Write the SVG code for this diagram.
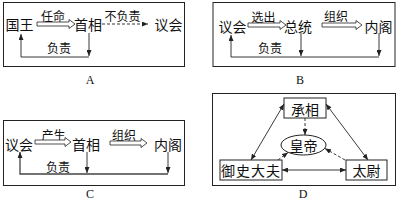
<svg xmlns="http://www.w3.org/2000/svg" width="398" height="201" viewBox="0 0 398 201">
<style>
  .frame{fill:none;stroke:#222;stroke-width:1}
  .nb{fill:#fff;stroke:#222;stroke-width:1}
  .t{font-family:"Noto Sans CJK SC","Noto Sans CJK JP",sans-serif;font-size:14px;fill:#111;text-anchor:middle;dominant-baseline:central}
  .s{font-family:"Noto Sans CJK SC","Noto Sans CJK JP",sans-serif;font-size:12px;fill:#111;text-anchor:middle;dominant-baseline:central}
  .lab{font-family:"Liberation Serif",serif;font-size:12px;fill:#111;text-anchor:middle;dominant-baseline:central}
  .ln{fill:none;stroke:#222;stroke-width:0.9}
  .dash{fill:none;stroke:#222;stroke-width:0.9;stroke-dasharray:3 2}
  .hollow{fill:#fff;stroke:#222;stroke-width:0.8}
</style>
<defs>
  <marker id="ah" markerUnits="userSpaceOnUse" markerWidth="6" markerHeight="5" refX="6" refY="2.5" orient="auto-start-reverse">
    <path d="M0,0 L6,2.5 L0,5 z" fill="#222"/>
  </marker>
</defs>

<!-- Panel A -->
<g id="panelA">
  <rect class="frame" x="3.5" y="2.5" width="181" height="64"/>
  <g id="A-guowang"><text class="t" x="19.5" y="24">国王</text></g>
  <g id="A-shouxiang"><text class="t" x="88" y="24">首相</text></g>
  <g id="A-yihui"><text class="t" x="168.5" y="24">议会</text></g>
  <text class="s" x="53" y="15">任命</text>
  <text class="s" x="122.5" y="15">不负责</text>
  <text class="s" x="59" y="47">负责</text>
  <text class="lab" x="90" y="80">A</text>
</g>

<!-- Panel B -->
<g id="panelB">
  <rect class="frame" x="213" y="2.5" width="182" height="64"/>
  <g id="B-yihui"><text class="t" x="232.5" y="26">议会</text></g>
  <g id="B-zongtong"><text class="t" x="298" y="26">总统</text></g>
  <g id="B-neige"><text class="t" x="378.5" y="26">内阁</text></g>
  <text class="s" x="263.5" y="16">选出</text>
  <text class="s" x="336" y="15">组织</text>
  <text class="s" x="270" y="47">负责</text>
  <text class="lab" x="300" y="80">B</text>
</g>

<!-- Panel C -->
<g id="panelC">
  <rect class="frame" x="3.5" y="120.5" width="181" height="65"/>
  <g id="C-yihui"><text class="t" x="19" y="144">议会</text></g>
  <g id="C-shouxiang"><text class="t" x="86" y="144">首相</text></g>
  <g id="C-neige"><text class="t" x="168" y="144">内阁</text></g>
  <text class="s" x="53.5" y="134">产生</text>
  <text class="s" x="124" y="134">组织</text>
  <text class="s" x="58" y="166">负责</text>
  <text class="lab" x="90" y="194">C</text>
</g>

<!-- Panel D -->
<g id="panelD">
  <rect class="frame" x="212.5" y="93.5" width="183" height="92"/>
  <g id="D-chengxiang">
    <rect class="nb" x="284" y="98" width="42" height="20"/>
    <text class="t" x="305" y="108.5">承相</text>
  </g>
  <g id="D-huangdi">
    <ellipse class="nb" cx="303.5" cy="145" rx="22.5" ry="10"/>
    <text class="t" x="303.5" y="145">皇帝</text>
  </g>
  <g id="D-yushidafu">
    <rect class="nb" x="220" y="160" width="62" height="20"/>
    <text class="t" x="251" y="170" style="letter-spacing:1px">御史大夫</text>
  </g>
  <g id="D-taiwei">
    <rect class="nb" x="346" y="160" width="41" height="20"/>
    <text class="t" x="366.5" y="170">太尉</text>
  </g>
  <text class="lab" x="303" y="194">D</text>
</g>

<!-- Connectors -->
<g id="connectors">
  <!-- A -->
  <polygon class="hollow" points="37,22 69,22 69,19.5 75,24 69,28.5 69,26 37,26"/>
  <line class="dash" x1="102" y1="24" x2="148" y2="24" marker-end="url(#ah)"/>
  <path class="ln" d="M89,33 V56" marker-end="url(#ah)"/>
  <path class="ln" d="M89,57 H21 V34" marker-end="url(#ah)"/>
  <!-- B -->
  <polygon class="hollow" points="248,23 280,23 280,20.5 286,25 280,29.5 280,27 248,27"/>
  <polygon class="hollow" points="322,23 356,23 356,20.5 362,25 356,29.5 356,27 322,27"/>
  <path class="ln" d="M301,33 V56" marker-end="url(#ah)"/>
  <path class="ln" d="M379,33 V56" marker-end="url(#ah)"/>
  <path class="ln" d="M379,57 H231 V35" marker-end="url(#ah)"/>
  <!-- C -->
  <polygon class="hollow" points="35,140 65,140 65,137.5 71,142 65,146.5 65,144 35,144"/>
  <polygon class="hollow" points="110,141 141,141 141,138.5 147,143 141,147.5 141,145 110,145"/>
  <path class="ln" d="M87,152 V173" marker-end="url(#ah)"/>
  <path class="ln" d="M168,152 V173" marker-end="url(#ah)"/>
  <path class="ln" d="M168,174 H20 V152" marker-end="url(#ah)" style="stroke:#444;stroke-width:1.3"/>
  <!-- D -->
  <line class="ln" x1="284" y1="104" x2="251" y2="160" marker-start="url(#ah)" marker-end="url(#ah)"/>
  <line class="ln" x1="326" y1="104" x2="368" y2="160" marker-start="url(#ah)" marker-end="url(#ah)"/>
  <line class="ln" x1="282" y1="170" x2="346" y2="170" marker-start="url(#ah)" marker-end="url(#ah)"/>
  <line class="dash" x1="305" y1="118" x2="305" y2="135" marker-end="url(#ah)"/>
  <line class="dash" x1="278" y1="160" x2="288" y2="152.5" marker-end="url(#ah)"/>
  <line class="dash" x1="345" y1="160" x2="325" y2="148.5" marker-end="url(#ah)"/>
</g>
</svg>
